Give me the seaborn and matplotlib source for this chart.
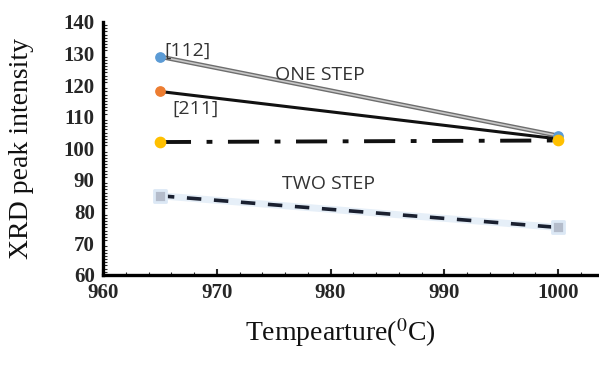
import matplotlib
matplotlib.use("Agg")
import matplotlib.pyplot as plt
import numpy as np
import pandas as pd
import seaborn as sns
from matplotlib.ticker import MultipleLocator

# ---- data ----
temperature = [965, 1000]
one_step_112 = [129, 104]
one_step_211 = [118, 103]
dashdot_series = [102, 102.5]
two_step_series = [85, 75]

x_ticks = [960, 970, 980, 990, 1000]
y_ticks = [60, 70, 80, 90, 100, 110, 120, 130, 140]

sns.set_theme(style="white")
plt.rcParams["font.family"] = ["Liberation Serif", "DejaVu Serif"]
plt.rcParams["mathtext.fontset"] = "stix"

fig = plt.figure(figsize=(5.99, 3.65), dpi=100)
ax = fig.add_axes([0.172, 0.247, 0.828, 0.693])

df1 = pd.DataFrame({"T": temperature, "I": one_step_112})
df2 = pd.DataFrame({"T": temperature, "I": one_step_211})
df3 = pd.DataFrame({"T": temperature, "I": dashdot_series})
df4 = pd.DataFrame({"T": temperature, "I": two_step_series})

# [112] line: gray double-ish line
sns.lineplot(data=df1, x="T", y="I", ax=ax, color="#6e6e6e", lw=3.2, zorder=3)
sns.lineplot(data=df1, x="T", y="I", ax=ax, color="#c8c8c8", lw=1.2, zorder=3)
# [211] solid black
sns.lineplot(data=df2, x="T", y="I", ax=ax, color="#111111", lw=2.2, zorder=3)
# dash-dot black
sns.lineplot(data=df3, x="T", y="I", ax=ax, color="#111111", lw=2.8, zorder=3)
ax.lines[-1].set_dashes([8, 4, 1.5, 4])
# two step dashed with light blue halo
sns.lineplot(data=df4, x="T", y="I", ax=ax, color="#e6eff8", lw=5, zorder=2)
sns.lineplot(data=df4, x="T", y="I", ax=ax, color="#1a2030", lw=2.6, zorder=3)
ax.lines[-1].set_dashes([4, 3.5])

# markers
ax.scatter([temperature[0]], [one_step_112[0]], s=45, color="#5B9BD5", zorder=5)
ax.scatter([temperature[1]], [one_step_112[1]], s=45, color="#5B9BD5", zorder=4)
ax.scatter([temperature[0]], [one_step_211[0]], s=45, color="#ED7D31", zorder=5)
ax.scatter(temperature, dashdot_series, s=55, color="#FFC000", zorder=5)
ax.scatter(temperature, two_step_series, s=70, marker="s", color="#b4bccb",
           edgecolor="#dce8f5", linewidth=2, zorder=5)

# text labels
lab_kw = dict(family=["Open Sans", "DejaVu Sans"], color="#333333", fontsize=14)
ax.text(965.4, 131.0, "[112]", ha="left", va="center", **lab_kw)
ax.text(966.1, 112.5, "[211]", ha="left", va="center", **lab_kw)
ax.text(975.1, 123.3, "ONE STEP", ha="left", va="center", **lab_kw)
ax.text(975.7, 88.6, "TWO STEP", ha="left", va="center", **lab_kw)

ax.set_xlim(960, 1003.6)
ax.set_ylim(60, 140)
ax.set_xticks(x_ticks)
ax.set_yticks(y_ticks)
ax.xaxis.set_minor_locator(MultipleLocator(2))
ax.yaxis.set_minor_locator(MultipleLocator(1))
ax.tick_params(axis="y", which="major", direction="inout", length=8, width=1.5,
               labelsize=15, pad=2)
ax.tick_params(axis="y", which="minor", direction="in", length=3, width=0.8, left=True)
ax.tick_params(axis="x", which="major", direction="in", length=4, width=1.5,
               labelsize=15, pad=6, bottom=True)
ax.tick_params(axis="x", which="minor", direction="in", length=2, width=0.8, bottom=True)
for lbl in ax.get_xticklabels() + ax.get_yticklabels():
    lbl.set_fontweight("bold")

for s in ["top", "right"]:
    ax.spines[s].set_visible(False)
for s in ["left", "bottom"]:
    ax.spines[s].set_linewidth(2.4)
    ax.spines[s].set_color("black")

ax.set_xlabel("Tempearture($^0$C)", fontsize=20, color="#111111")
ax.set_ylabel("XRD peak intensity", fontsize=20, color="#111111")
ax.xaxis.set_label_coords(0.478, -0.165)
ax.yaxis.set_label_coords(-0.14, 0.5)

fig.savefig("out.png", dpi=100)
